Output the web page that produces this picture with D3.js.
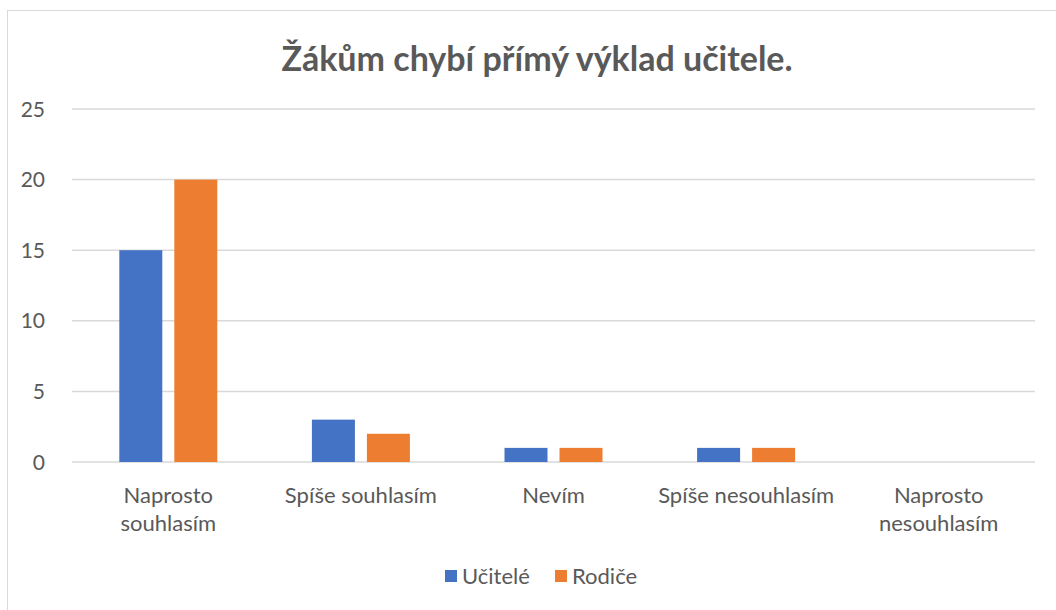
<!DOCTYPE html>
<html>
<head>
<meta charset="utf-8">
<script src="https://cdn.jsdelivr.net/npm/d3@7"></script>
<style>
  body { margin: 0; background: #fff; }
  text { font-family: Lato, "Open Sans", sans-serif; fill: #595959; }
</style>
</head>
<body>
<div id="chart"></div>
<script>
// Data
var categories = [["Naprosto", "souhlasím"], ["Spíše souhlasím"], ["Nevím"], ["Spíše nesouhlasím"], ["Naprosto", "nesouhlasím"]];
var seriesNames = ["Učitelé", "Rodiče"];
var ucitele = [15, 3, 1, 1, 0];
var rodice = [20, 2, 1, 1, 0];
var yTicks = [0, 5, 10, 15, 20, 25];
var colors = ["#4472c4", "#ed7d31"];

var svgWidth = 1056, svgHeight = 610;
var margin = { top: 109, right: 21, bottom: 148, left: 72 };
var width = svgWidth - margin.left - margin.right;
var height = svgHeight - margin.top - margin.bottom;

var svg = d3.select("#chart").append("svg")
    .attr("width", svgWidth)
    .attr("height", svgHeight);

// chart border
svg.append("rect")
    .attr("x", 7.5).attr("y", 10.5)
    .attr("width", 1060).attr("height", 620)
    .attr("fill", "none")
    .attr("stroke", "#d9d9d9");

svg.append("text")
    .attr("x", 537).attr("y", 71)
    .attr("text-anchor", "middle")
    .style("font-size", "34px")
    .style("font-weight", "bold")
    .text("Žákům chybí přímý výklad učitele.");

var chartGroup = svg.append("g")
    .attr("transform", `translate(${margin.left}, ${margin.top})`);

var xScale = d3.scaleBand()
    .domain(d3.range(categories.length))
    .range([0, width]);

var bw = 43, gap = 12;

var yScale = d3.scaleLinear()
    .domain([0, 25])
    .range([height, 0]);

// gridlines
chartGroup.selectAll(".grid")
    .data(yTicks)
    .enter()
    .append("line")
    .attr("x1", 0).attr("x2", width)
    .attr("y1", d => yScale(d)).attr("y2", d => yScale(d))
    .attr("stroke", "#d9d9d9")
    .attr("stroke-width", 1.5);

// y labels
chartGroup.selectAll(".ylab")
    .data(yTicks)
    .enter()
    .append("text")
    .attr("x", -27)
    .attr("y", d => yScale(d))
    .attr("dy", "0.36em")
    .attr("text-anchor", "end")
    .style("font-size", "21px")
    .text(d => d);

// bars
var series = [ucitele, rodice];
series.forEach(function(vals, s) {
    chartGroup.selectAll(".bar" + s)
        .data(vals)
        .enter()
        .append("rect")
        .attr("x", (d, i) => xScale(i) + xScale.bandwidth() / 2 + (s === 0 ? -gap / 2 - bw : gap / 2))
        .attr("y", d => yScale(d))
        .attr("width", bw)
        .attr("height", d => height - yScale(d))
        .attr("fill", colors[s]);
});

// category labels
var catLabels = chartGroup.selectAll(".cat")
    .data(categories)
    .enter()
    .append("text")
    .attr("text-anchor", "middle")
    .attr("transform", (d, i) => `translate(${xScale(i) + xScale.bandwidth() / 2}, ${height + 41})`)
    .style("font-size", "22px");

catLabels.selectAll("tspan")
    .data(d => d)
    .enter()
    .append("tspan")
    .attr("x", 0)
    .attr("dy", (d, i) => i === 0 ? 0 : 28)
    .text(d => d);

// legend
var legend = svg.append("g");
var legendX = [445, 555];
seriesNames.forEach(function(name, i) {
    legend.append("rect")
        .attr("x", legendX[i]).attr("y", 570)
        .attr("width", 12).attr("height", 12)
        .attr("fill", colors[i]);
    legend.append("text")
        .attr("x", legendX[i] + 17).attr("y", 584)
        .style("font-size", "22px")
        .text(name);
});
</script>
</body>
</html>
